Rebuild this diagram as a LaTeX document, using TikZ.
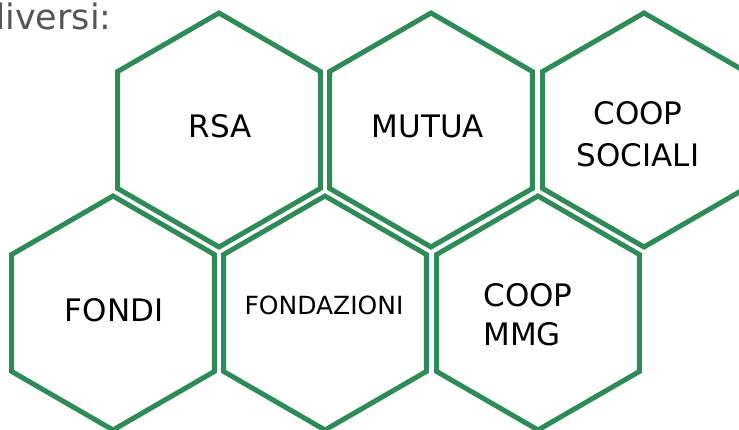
\documentclass[tikz,border=0pt]{standalone}
\usepackage{fontspec}
\setmainfont{DejaVu Sans}
\usetikzlibrary{shapes.geometric}
\definecolor{hexgreen}{RGB}{46,139,87}
\definecolor{introgray}{RGB}{85,85,85}

\begin{document}
\begin{tikzpicture}[x=1pt, y=-1pt,
    hexa/.style={shape=regular polygon, regular polygon sides=6, shape border rotate=30,
        minimum size=234pt, inner sep=0pt, draw=hexgreen, line width=5pt},
    lbl/.style={font=\fontsize{31}{42}\selectfont, inner sep=0pt, align=center}]
    \useasboundingbox (0,0) rectangle (739,430);
    \clip (0,0) rectangle (739,430);
    \node[anchor=base west, inner sep=0pt, text=introgray, font=\fontsize{35}{42}\selectfont] (intro) at (-17,30) {diversi:};
    % top row
    \node[hexa] (rsa) at (219,130) {};
    \node[hexa] (mutua) at (431,130) {};
    \node[hexa] (coopsoc) at (644,130) {};
    % bottom row
    \node[hexa] (fondi) at (113,313) {};
    \node[hexa] (fondaz) at (325,313) {};
    \node[hexa] (coopmmg) at (538,313) {};
    % labels
    \node[lbl] (rsa-t) at (220,126) {RSA};
    \node[lbl] (mutua-t) at (428,126) {MUTUA};
    \node[lbl] (coopsoc-t) at (638,134) {COOP\\SOCIALI};
    \node[lbl] (fondi-t) at (114,310) {FONDI};
    \node[lbl, font=\fontsize{25}{30}\selectfont] (fondaz-t) at (324,305) {FONDAZIONI};
    \node[lbl, align=left, font=\fontsize{31}{39}\selectfont] (coopmmg-t) at (528,315) {COOP\\MMG};
\end{tikzpicture}
\end{document}
